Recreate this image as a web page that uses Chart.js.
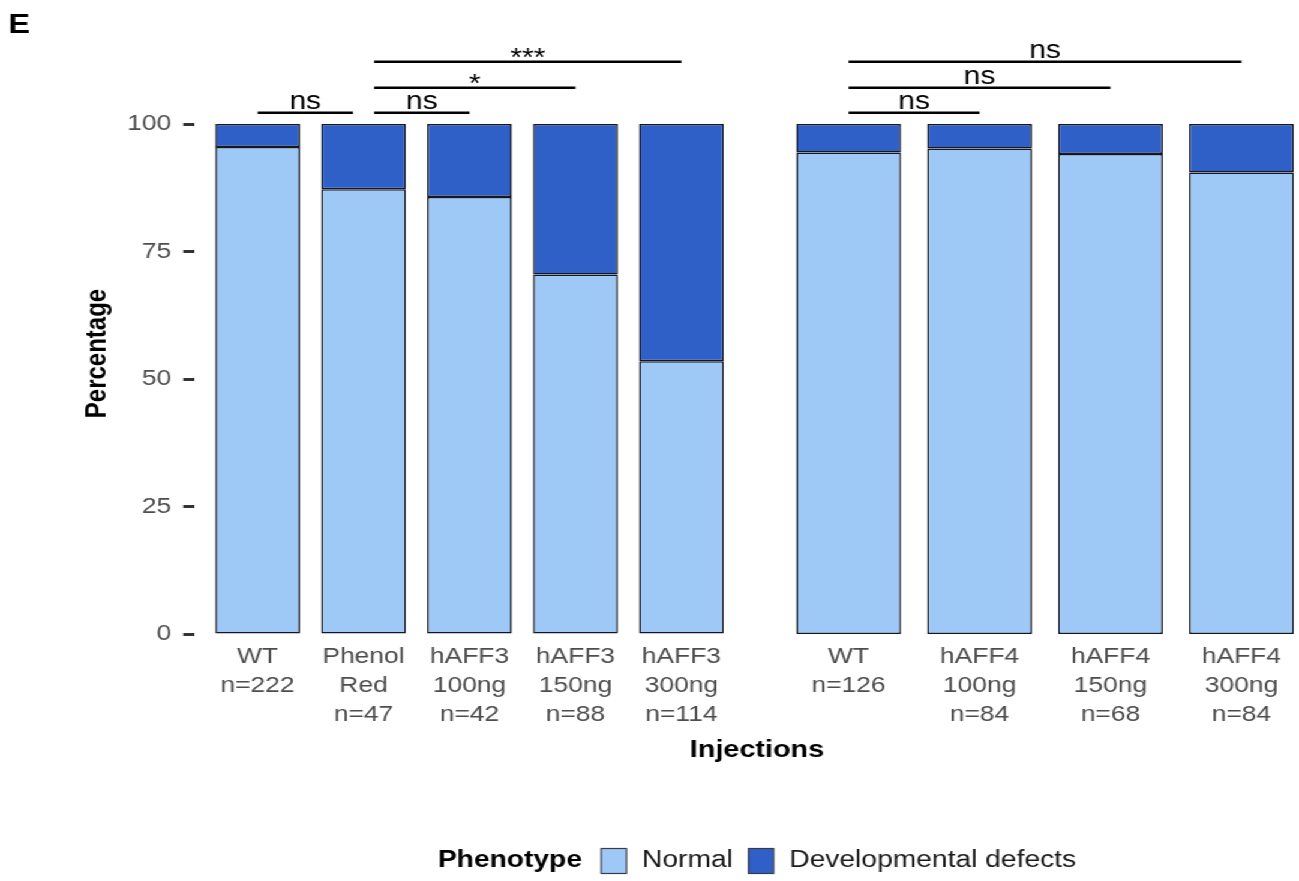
<!DOCTYPE html>
<html>
<head>
<meta charset="utf-8">
<script src="https://cdn.jsdelivr.net/npm/chart.js@4.4.1/dist/chart.umd.min.js"></script>
<style>
  html, body { margin: 0; padding: 0; overflow: hidden; background: #fff; width: 1299px; height: 881px; }
  /* the figure is drawn at 1120 px wide and stretched horizontally to fill the frame */
  #figure { position: absolute; left: 0; top: 0; width: 1120px; height: 881px; transform: scaleX(1.2); transform-origin: 0 0; }
  #figure canvas { position: absolute; left: 0; top: 0; display: block; width: 1120px; height: 881px; }
</style>
</head>
<body>
<div id="figure">
  <canvas id="leftPanel" width="1120" height="881"></canvas>
  <canvas id="rightPanel" width="1120" height="881"></canvas>
</div>
<script>
// ---- data -------------------------------------------------------------
const leftLabels = [
  ['WT', 'n=222'],
  ['Phenol', 'Red', 'n=47'],
  ['hAFF3', '100ng', 'n=42'],
  ['hAFF3', '150ng', 'n=88'],
  ['hAFF3', '300ng', 'n=114']
];
const rightLabels = [
  ['WT', 'n=126'],
  ['hAFF4', '100ng', 'n=84'],
  ['hAFF4', '150ng', 'n=68'],
  ['hAFF4', '300ng', 'n=84']
];
const leftNormal   = [95.5, 87.2, 85.7, 70.5, 53.5];
const leftDefects  = [4.5, 12.8, 14.3, 29.5, 46.5];
const rightNormal  = [94.4, 95.2, 94.1, 90.5];
const rightDefects = [5.6, 4.8, 5.9, 9.5];
const yTicks = [0, 25, 50, 75, 100];

// significance brackets (x in category positions, level in percent)
const bracketFromL  = [1, 2.1, 2.1, 2.1];
const bracketToL    = [1.9, 3, 4, 5];
const bracketLevelL = [102.2, 102.2, 107.1, 112.2];
const bracketTextL  = ['ns', 'ns', '*', '***'];
const bracketFromR  = [1, 1, 1];
const bracketToR    = [2, 3, 4];
const bracketLevelR = [102.2, 107.1, 112.2];
const bracketTextR  = ['ns', 'ns', 'ns'];

// ---- layout -----------------------------------------------------------
const FONT = '"Liberation Sans", Arial, Helvetica, sans-serif';
const W = 1120, H = 881;
const TOP = 73, BOTTOM = 634;
const LEFT_PANEL = { left: 161.7, right: 620.8 };
const RIGHT_PANEL = { left: 641.7, right: 1100 };
const X_AXIS_H = 130.4;
const PAD_BOTTOM = H - BOTTOM - X_AXIS_H;
const Y_PAD_LEFT = 67.3;

const NORMAL = '#9ec9f6';
const DEFECT = '#2f60c8';
const EDGE = '#141622';
const TEXT_GREY = '#4d4d4d';

Chart.defaults.font.family = FONT;

const asPoints = arr => arr.map((v, i) => ({ x: i + 1, y: v }));
const barStyle = { borderColor: EDGE, borderWidth: 1.5, borderSkipped: false, barPercentage: 1, categoryPercentage: 0.8 };

function drawBrackets(chart, from, to, level, text) {
  const { ctx } = chart;
  const xs = chart.scales.x, ys = chart.scales.y;
  ctx.save();
  ctx.strokeStyle = '#000';
  ctx.fillStyle = '#000';
  ctx.lineWidth = 2.6;
  ctx.font = '25px ' + FONT;
  ctx.textAlign = 'center';
  ctx.textBaseline = 'alphabetic';
  for (let i = 0; i < from.length; i++) {
    const x1 = xs.getPixelForValue(from[i]);
    const x2 = xs.getPixelForValue(to[i]);
    const yy = ys.getPixelForValue(level[i]);
    ctx.beginPath();
    ctx.moveTo(x1, yy);
    ctx.lineTo(x2, yy);
    ctx.stroke();
    const m = ctx.measureText(text[i]);
    ctx.fillText(text[i], (x1 + x2) / 2, yy - 3.5 - m.actualBoundingBoxDescent);
  }
  ctx.restore();
}

// panel tag, axis title and legend shared by both panels
function drawFigureText(chart) {
  const { ctx } = chart;
  const centre = (LEFT_PANEL.left + RIGHT_PANEL.right) / 2;
  ctx.save();
  ctx.fillStyle = '#000';
  ctx.font = 'bold 27px ' + FONT;
  ctx.textAlign = 'left';
  ctx.textBaseline = 'alphabetic';
  ctx.fillText('E', 7, 33);

  ctx.font = 'bold 24px ' + FONT;
  ctx.textAlign = 'center';
  ctx.textBaseline = 'middle';
  ctx.fillText('Injections', centre, 750);

  const items = chart.data.datasets.map(d => ({ text: d.label, fill: d.backgroundColor }));
  const titleFont = 'bold 23.5px ' + FONT, itemFont = '23.5px ' + FONT;
  const keyW = 21, keyH = 25, gapTitle = 16, gapKey = 13, gapItem = 13;
  ctx.font = titleFont;
  const titleW = ctx.measureText('Phenotype').width;
  ctx.font = itemFont;
  const widths = items.map(it => ctx.measureText(it.text).width);
  let total = titleW + gapTitle;
  widths.forEach((w, i) => { total += keyW + gapKey + w + (i < widths.length - 1 ? gapItem : 0); });
  const cy = 861;
  let x = centre - total / 2;
  ctx.textAlign = 'left';
  ctx.font = titleFont;
  ctx.fillText('Phenotype', x, cy);
  x += titleW + gapTitle;
  ctx.font = itemFont;
  items.forEach((it, i) => {
    ctx.fillStyle = it.fill;
    ctx.fillRect(x, cy - keyH / 2, keyW, keyH);
    ctx.strokeStyle = '#3a3a4a';
    ctx.lineWidth = 1.2;
    ctx.strokeRect(x, cy - keyH / 2, keyW, keyH);
    x += keyW + gapKey;
    ctx.fillStyle = '#1a1a1a';
    ctx.fillText(it.text, x, cy);
    x += widths[i] + gapItem;
  });
  ctx.restore();
}

function panelConfig({ labels, normal, defects, padding, showY, plugin }) {
  return {
    type: 'bar',
    data: {
      datasets: [
        { label: 'Normal', data: asPoints(normal), backgroundColor: NORMAL, ...barStyle },
        { label: 'Developmental defects', data: asPoints(defects), backgroundColor: DEFECT, ...barStyle }
      ]
    },
    options: {
      responsive: false,
      animation: false,
      layout: { padding },
      plugins: { legend: { display: false }, tooltip: { enabled: false } },
      scales: {
        x: {
          type: 'linear', stacked: true, offset: false,
          min: 0.4, max: labels.length + 0.6,
          grid: { display: false, drawTicks: false, offset: false }, border: { display: false },
          afterBuildTicks: s => { s.ticks = labels.map((_, i) => ({ value: i + 1 })); },
          ticks: {
            color: TEXT_GREY, font: { size: 22, lineHeight: 1.32 }, padding: 8,
            maxRotation: 0, minRotation: 0, autoSkip: false,
            callback: v => labels[v - 1]
          },
          afterFit: s => { s.height = X_AXIS_H; }
        },
        y: {
          type: 'linear', stacked: true, display: showY,
          min: 0, max: 110,
          afterBuildTicks: s => { s.ticks = yTicks.map(v => ({ value: v })); },
          ticks: { color: TEXT_GREY, font: { size: 22 }, padding: 10 },
          grid: { display: true, drawOnChartArea: false, drawTicks: true, tickLength: 9, tickWidth: 3, tickColor: '#333' },
          border: { display: false },
          title: { display: true, text: 'Percentage', color: '#000', font: { size: 24, weight: 'bold' }, padding: 0 },
          afterFit: s => { if (showY) s.width = LEFT_PANEL.left - Y_PAD_LEFT; }
        }
      }
    },
    plugins: [plugin]
  };
}

new Chart(document.getElementById('leftPanel'), panelConfig({
  labels: leftLabels, normal: leftNormal, defects: leftDefects, showY: true,
  padding: { left: Y_PAD_LEFT, right: W - LEFT_PANEL.right, top: TOP, bottom: PAD_BOTTOM },
  plugin: {
    id: 'leftAnnotations',
    afterDraw(chart) {
      drawBrackets(chart, bracketFromL, bracketToL, bracketLevelL, bracketTextL);
      drawFigureText(chart);
    }
  }
}));

new Chart(document.getElementById('rightPanel'), panelConfig({
  labels: rightLabels, normal: rightNormal, defects: rightDefects, showY: false,
  padding: { left: RIGHT_PANEL.left, right: W - RIGHT_PANEL.right, top: TOP, bottom: PAD_BOTTOM },
  plugin: {
    id: 'rightAnnotations',
    afterDraw(chart) {
      drawBrackets(chart, bracketFromR, bracketToR, bracketLevelR, bracketTextR);
    }
  }
}));
</script>
</body>
</html>
